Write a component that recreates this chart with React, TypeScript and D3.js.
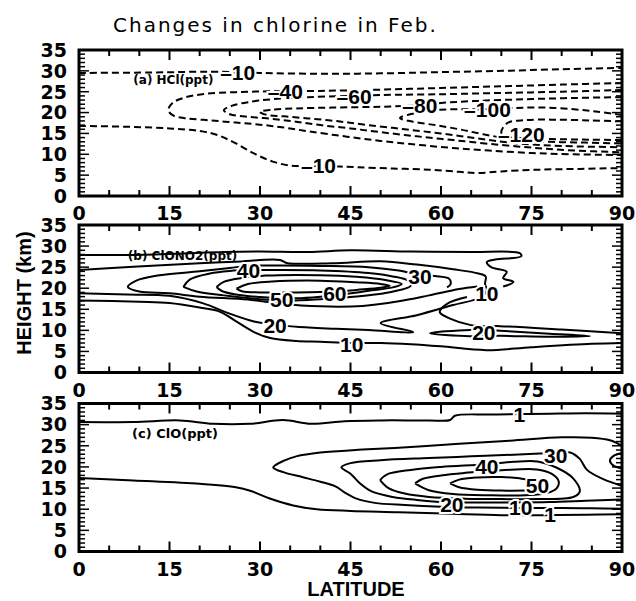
import React from 'react';
import * as d3 from 'd3';

type Pt = [number, number];
type Label = { text: string; lat: number; km: number };

const latTicks = [0, 15, 30, 45, 60, 75, 90];
const kmTicks = [0, 5, 10, 15, 20, 25, 30, 35];

// (a) HCl change, ppt (dashed)
const hclM10Top: Pt[] = [[0, 29.5], [12, 29.6], [22, 29.8], [30, 29.5], [40, 29.3], [50, 29.4], [60, 29.7], [70, 30], [80, 30.4], [90, 30.7]];
const hclM10Low: Pt[] = [[0, 16.8], [8, 16.6], [15, 16.2], [20, 15.6], [23, 14.6], [26, 12.6], [29, 10.2], [32, 8.3], [35, 7.3], [38, 7.2], [42, 7.1], [46, 6.9], [52, 6.6], [58, 6.3], [63, 5.8], [66, 5.5], [70, 5.9], [76, 6.3], [83, 6.5], [90, 6.7]];
const hclM40: Pt[] = [[90, 27.1], [80, 26.7], [70, 26.3], [60, 25.9], [50, 25.5], [40, 25.2], [32, 25.1], [26, 24.9], [21, 24.5], [17.5, 23.6], [15.5, 22.3], [14.8, 20.6], [15.6, 19.3], [18, 18.6], [22, 18.1], [26, 17.6], [30, 17.1], [34, 16.4], [38, 15.5], [44, 14.3], [50, 13.2], [56, 12.3], [62, 11.5], [68, 10.9], [75, 10.3], [82, 10], [90, 9.8]];
const hclM60: Pt[] = [[90, 25.4], [80, 25], [70, 24.7], [60, 24.4], [50, 24.2], [45, 24], [38, 23.7], [32, 23.2], [28, 22.5], [25.3, 21.6], [24, 20.6], [25, 19.6], [28, 19], [32, 18.5], [36, 17.8], [40, 17], [45, 16.2], [50, 15.3], [56, 14.3], [62, 13.4], [68, 12.5], [75, 11.6], [82, 10.9], [90, 10.5]];
const hclM80: Pt[] = [[90, 23.7], [82, 23.5], [74, 23.2], [66, 22.8], [60, 22.3], [57, 21.8], [50, 21.4], [42, 21.2], [36, 21], [32, 20.7], [30, 20.2], [31, 19.5], [34, 19.1], [38, 18.6], [43, 17.9], [48, 17], [54, 16], [60, 15], [66, 13.8], [72, 12.7], [80, 12], [90, 11.7]];
const hclM100: Pt[] = [[90, 19.4], [86, 20.2], [82, 20.8], [77, 21.2], [72, 21.1], [67.5, 20.8], [63, 20.8], [59, 20.6], [55.5, 19.8], [53.2, 18.7], [55, 17.9], [59, 17], [63, 16], [67, 14.8], [72, 13.6], [78, 13], [84, 12.8], [90, 12.6]];
const hclM120: Pt[] = [[90, 17.9], [85, 18.1], [79, 18.3], [74, 18.2], [71, 17.5], [70, 15.2], [71, 14.2], [75, 13.8], [80, 13.6], [85, 13.5], [90, 13.4]];
const hclLabels: Label[] = [
  { text: '\u201310', lat: 26.3, km: 29.6 },
  { text: '\u201310', lat: 39.7, km: 7.4 },
  { text: '\u201340', lat: 34.2, km: 25 },
  { text: '\u201360', lat: 45.6, km: 23.9 },
  { text: '\u201380', lat: 56.5, km: 21.8 },
  { text: '\u2013100', lat: 67.7, km: 20.7 },
  { text: '\u2013120', lat: 73.3, km: 14.8 },
];

// (b) ClONO2 change, ppt
const cnTop: Pt[] = [[0, 27.9], [8, 27.9], [16, 28.2], [24, 28.6], [30, 28.7], [38, 28.6], [45, 29], [55, 28.7], [65, 28.6], [73.1, 28.3], [73.3, 27.6], [69, 26.8], [67.6, 26.2], [68.3, 25], [70.9, 23.9], [70.3, 22.4], [72, 21.5], [70.3, 20.4]];
const cnTen: Pt[] = [[0, 24.3], [9, 25.1], [20, 25.9], [26, 26.3], [33.3, 26.7], [34.4, 26], [42, 25.9], [50, 26.4], [56, 25.6], [62, 24.5], [66.2, 23.5], [67.4, 22.8], [67.3, 21], [67.6, 19.5], [66.5, 17.8], [62, 16], [56, 13.6], [50, 11.7], [55.4, 9.6], [48, 10.1], [42, 10.4], [36.5, 10.8], [32.5, 11.3], [29, 12.1], [24.5, 14.2], [20.6, 16.4], [15, 18.2], [8, 18.5], [0, 18.8]];
const cnTenLow: Pt[] = [[0, 17.1], [10, 16.8], [15, 16.5], [20, 15.4], [23.4, 14.4], [26.2, 12], [29, 9.6], [31.7, 8.2], [36, 7.5], [40, 7.3], [45, 7], [50, 7], [55, 6.7], [60, 6.2], [67.5, 5.3], [75, 6], [85, 6.8], [90, 7]];
const cnThirty: Pt[] = [[66, 20.4], [63, 19.8], [58, 18.3], [53, 16.9], [47, 15.8], [40, 15.7], [33, 16.4], [28, 17.3], [20, 18], [15, 18.8], [10, 19.2], [8.1, 20.3], [9.5, 21.8], [13, 23], [20, 24], [25, 24.8], [28, 25.3], [33, 25.4], [40, 25.3], [48, 25], [53, 24.2], [56.3, 23.2], [59, 22.9], [61.3, 22.3], [61.6, 21], [61, 20.2]];
const cnForty: Pt[] = [[17.3, 20.3], [18.4, 22.1], [21.7, 23.5], [25, 24.1], [28, 24.3], [32, 24.3], [40, 24.2], [48, 23.6], [52, 22.8], [54.5, 21.8], [55, 20.6], [51, 18.9], [45, 17.9], [40, 17.4], [35, 17.1], [30, 17.4], [24, 18.3], [19.5, 19.2], [17.3, 20.3]];
const cnFifty: Pt[] = [[22.8, 20.3], [24, 21.5], [27, 22.4], [31, 23], [40, 23.1], [46, 22.7], [51, 21.9], [53.5, 21], [52, 20.2], [48, 19.4], [44, 18.6], [40, 18], [36, 17.6], [33.6, 17.6], [30, 17.9], [26, 18.5], [23.6, 19.4], [22.8, 20.3]];
const cnSixty: Pt[] = [[26.1, 19.9], [28, 21], [32, 21.6], [40, 21.8], [46, 21.4], [50, 21], [51.5, 20.6], [50, 20.1], [46, 19.6], [42.4, 19.2], [36, 19], [30, 19], [27, 19.3], [26.1, 19.9]];
const cnC: Pt[] = [[64.3, 17.9], [61, 16.3], [59.8, 14.3], [61.5, 12.8], [64.8, 11.3], [67.3, 11], [69.8, 11], [80, 10.2], [90, 9.3]];
const cnTwentyR: Pt[] = [[69.8, 9.9], [78, 9.2], [84.7, 8.6], [78, 8.5], [69.8, 8.7], [64.8, 8.6], [58.2, 9.3], [64.8, 10.1], [69.8, 9.9]];
const cnLabels: Label[] = [
  { text: '40', lat: 28.1, km: 24.3 },
  { text: '50', lat: 33.6, km: 17.3 },
  { text: '60', lat: 42.4, km: 18.7 },
  { text: '30', lat: 56.5, km: 22.8 },
  { text: '10', lat: 67.6, km: 18.7 },
  { text: '20', lat: 32.5, km: 11.2 },
  { text: '20', lat: 67.1, km: 9.5 },
  { text: '10', lat: 45.2, km: 6.6 },
];

// (c) ClO change, ppt
const cloOneTop: Pt[] = [[0, 30.6], [9, 30.6], [16.7, 31], [22.2, 30.2], [28.3, 30.2], [33.8, 31.1], [38.5, 30.2], [44, 30.8], [50, 31], [58, 31], [61.5, 31.1], [62.3, 32.1], [68, 32.4], [73, 32.5], [78, 32.6], [84, 32.7], [90, 32.6]];
const cloOneLow: Pt[] = [[0, 17.4], [9, 16.8], [20, 16], [26, 15.2], [28.5, 14.3], [31.5, 12.6], [35.5, 10.9], [39.4, 10], [45, 9.6], [53, 9.3], [62, 8.9], [70, 8.6], [77, 8.6], [84, 8.7], [90, 8.8]];
const cloTen: Pt[] = [[90, 25], [88, 26.3], [85, 26.9], [80, 27], [71.4, 26.2], [63, 25.5], [55, 24.7], [47, 24.1], [40, 23.4], [36, 22.5], [34, 21.5], [32.2, 19.9], [34, 18.7], [37, 17.6], [40, 16.5], [42.5, 15.4], [44, 14], [46, 12.5], [49, 11.5], [54, 11], [60, 10.6], [66, 10.4], [73, 10.3], [80, 10.3], [85, 10.2], [90, 10.1]];
const cloTwenty: Pt[] = [[90, 15.5], [86.9, 17.1], [84.2, 19.3], [83, 21.9], [81.4, 23.4], [77, 23.2], [72, 22.9], [65, 22.5], [58, 22.1], [50, 21.6], [45, 20.9], [43.5, 19.9], [45, 18.4], [46.5, 16.2], [48.5, 14.2], [52, 12.9], [56, 12.2], [61.8, 11.6], [66, 11.6], [72, 11.6], [78, 11.7], [84, 12], [90, 12.3]];
const cloThirty: Pt[] = [[49.9, 16.9], [51, 18.2], [55, 19.3], [60, 20], [67.3, 20.6], [72, 21.2], [76, 21.3], [79.2, 19.8], [81.9, 17.3], [83, 14.2], [81.9, 12.9], [76, 12.4], [70, 12.4], [64, 12.5], [58, 12.9], [54, 13.7], [51.3, 15], [49.9, 16.9]];
const cloForty: Pt[] = [[55.7, 16.1], [57, 17.2], [60, 18], [64, 18.6], [70, 19.2], [75.9, 19.4], [78.3, 18.4], [79.5, 16.6], [79.2, 15], [77.5, 13.8], [74, 13.3], [68, 13.3], [62, 13.6], [58, 14.5], [55.7, 16.1]];
const cloFifty: Pt[] = [[61.5, 16.1], [63, 17], [66, 17.5], [70, 17.6], [73, 17.3], [76.5, 16.3], [77, 15.5], [75, 14.6], [70, 14.4], [66, 14.6], [63, 15.2], [61.5, 16.1]];
const cloEdge: Pt[] = [[90, 23.3], [88.6, 22.6], [88, 21.5], [88.6, 20.3], [90, 19.7]];
const cloLabels: Label[] = [
  { text: '1', lat: 73, km: 32.3 },
  { text: '30', lat: 79, km: 22.7 },
  { text: '40', lat: 67.6, km: 20 },
  { text: '50', lat: 76, km: 15.7 },
  { text: '20', lat: 61.8, km: 11.1 },
  { text: '10', lat: 73.2, km: 10.4 },
  { text: '1', lat: 78.1, km: 8.7 },
];

const panels = [
  { tag: '(a) HCl(ppt)', tagLat: 9, tagKm: 26.9, tagSize: 12, top: 50, bottom: 196, dashed: true,
    lines: [hclM10Top, hclM10Low, hclM40, hclM60, hclM80, hclM100, hclM120], labels: hclLabels },
  { tag: '(b) ClONO2(ppt)', tagLat: 8.1, tagKm: 26.6, tagSize: 12, top: 225, bottom: 372.5, dashed: false,
    lines: [cnTop, cnTen, cnTenLow, cnThirty, cnForty, cnFifty, cnSixty, cnC, cnTwentyR], labels: cnLabels },
  { tag: '(c) ClO(ppt)', tagLat: 8.8, tagKm: 26.8, tagSize: 13, top: 403.5, bottom: 551.5, dashed: false,
    lines: [cloOneTop, cloOneLow, cloTen, cloTwenty, cloThirty, cloForty, cloFifty, cloEdge], labels: cloLabels },
];

const x = d3.scaleLinear().domain([0, 90]).range([79, 622]);
const tickFont = '"DejaVu Sans", sans-serif';
const labelFont = '"Liberation Sans", Arial, sans-serif';

function Panel({ p }: { p: typeof panels[number] }) {
  const y = d3.scaleLinear().domain([0, 35]).range([p.bottom, p.top]);
  const line = d3.line<Pt>().x(d => x(d[0])).y(d => y(d[1])).curve(d3.curveCatmullRom.alpha(0.5));
  const minorLat = d3.range(5, 90, 5);
  const minorKm = d3.range(1, 35, 1);

  return (
    <g>
      {p.lines.map((l, i) => (
        <path key={i} d={line(l) || ''} fill="none" stroke="#000" strokeWidth={2}
          strokeDasharray={p.dashed ? '7,4' : undefined} strokeLinejoin="round" />
      ))}
      {p.labels.map((lb, i) => (
        <text key={i} x={x(lb.lat)} y={y(lb.km)} dy="0.36em" textAnchor="middle" fontFamily={labelFont}
          fontWeight="bold" fontSize={21} stroke="#fff" strokeWidth={4} paintOrder="stroke" fill="#000">{lb.text}</text>
      ))}
      <text x={x(p.tagLat)} y={y(p.tagKm)} fontFamily={tickFont} fontWeight="bold" fontSize={p.tagSize}>{p.tag}</text>
      {minorLat.map(v => {
        const len = v % 15 === 0 ? 10 : 6;
        return (
          <g key={v} stroke="#000" strokeWidth={2}>
            <line x1={x(v)} x2={x(v)} y1={p.bottom} y2={p.bottom - len} />
            <line x1={x(v)} x2={x(v)} y1={p.top} y2={p.top + len} />
          </g>
        );
      })}
      {minorKm.map(v => {
        const len = v % 5 === 0 ? 10 : 6;
        return (
          <g key={v} stroke="#000" strokeWidth={1.5}>
            <line x1={x(0)} x2={x(0) + len} y1={y(v)} y2={y(v)} />
            <line x1={x(90)} x2={x(90) - len} y1={y(v)} y2={y(v)} />
          </g>
        );
      })}
      <rect x={x(0)} y={p.top} width={x(90) - x(0)} height={p.bottom - p.top} fill="none" stroke="#000" strokeWidth={3} />
      {kmTicks.map(v => (
        <text key={v} x={67} y={y(v)} dy="0.36em" textAnchor="end" fontFamily={tickFont} fontWeight="bold" fontSize={19}>{v}</text>
      ))}
      {latTicks.map(v => (
        <text key={v} x={x(v)} y={p.bottom + 24} textAnchor="middle" fontFamily={tickFont} fontWeight="bold" fontSize={19}>{v}</text>
      ))}
    </g>
  );
}

export default function App() {
  return (
    <svg width={636} height={601} style={{ position: 'absolute', left: 0, top: 0, background: '#fff' }}>
      <rect width={636} height={601} fill="#fff" />
      <text x={113} y={32} fontFamily={tickFont} fontSize={20} letterSpacing={2}>Changes in chlorine in Feb.</text>
      {panels.map((p, i) => <Panel key={i} p={p} />)}
      <text x={356} y={596} textAnchor="middle" fontFamily={labelFont} fontWeight="bold" fontSize={20}>LATITUDE</text>
      <text transform="translate(31,293) rotate(-90)" textAnchor="middle" fontFamily={labelFont} fontWeight="bold" fontSize={20}>HEIGHT (km)</text>
    </svg>
  );
}
